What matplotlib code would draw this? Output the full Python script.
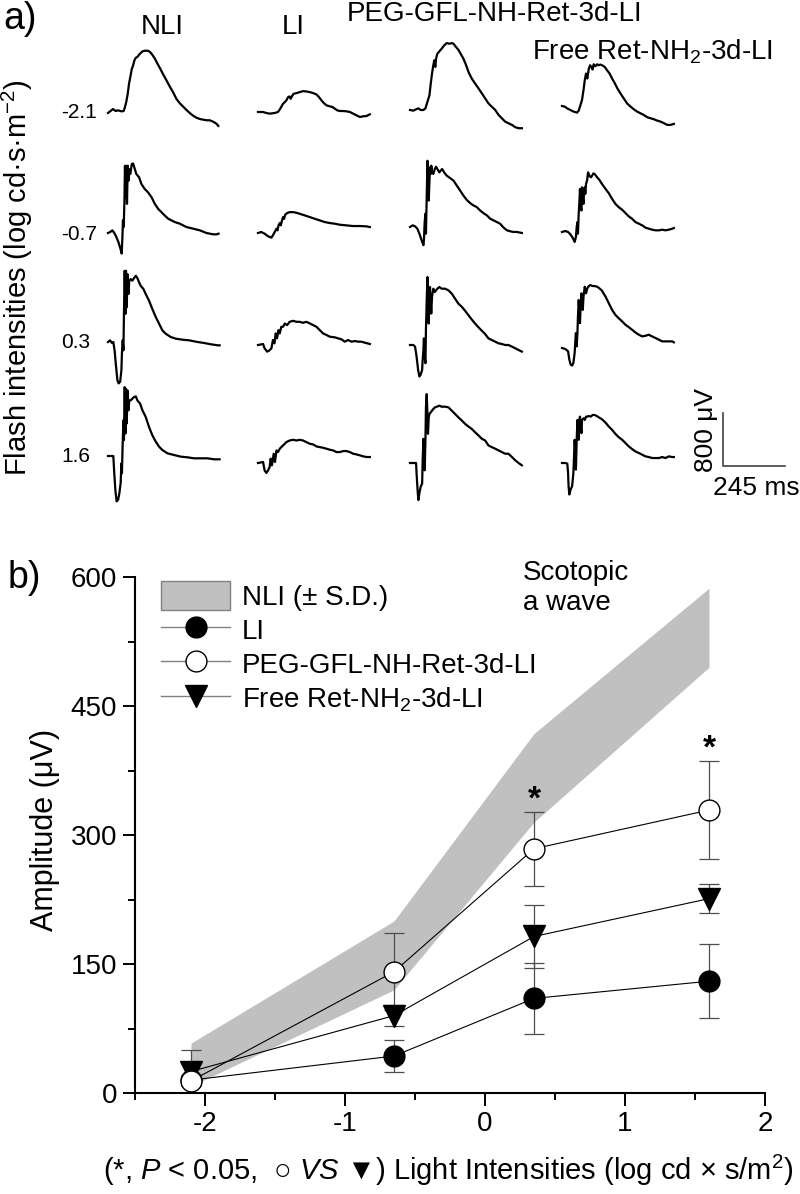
import matplotlib
matplotlib.use('Agg')
import matplotlib.pyplot as plt
from matplotlib.patches import Patch
from matplotlib.lines import Line2D

plt.rcParams['font.family'] = ['Liberation Sans', 'DejaVu Sans']
plt.rcParams['mathtext.fontset'] = 'custom'
plt.rcParams['mathtext.rm'] = 'Liberation Sans'
plt.rcParams['mathtext.it'] = 'Liberation Sans:italic'
plt.rcParams['mathtext.bf'] = 'Liberation Sans:bold'
plt.rcParams['axes.unicode_minus'] = False

#######################################################
# panel a : ERG traces (time in ms, amplitude in uV)
#######################################################
groups = ['NLI', 'LI', 'PEG-GFL-NH-Ret-3d-LI', 'Free Ret-NH$_2$-3d-LI']
flash_labels = ['-2.1', '-0.7', '0.3', '1.6']
scale_uv = 800
scale_ms = 245

nli_ms = [
    [0, 10, 20, 30, 40, 53, 62, 67, 72, 78, 83, 88, 94, 99, 104, 109, 117, 125, 136, 146, 157, 165, 175, 186, 196,
     207, 217, 230, 244, 257, 270, 283, 296, 309, 323, 336, 349, 362, 375, 389, 402, 415, 428, 436],
    [0, 9, 17, 25, 33, 41, 49, 54, 57, 59, 62, 65, 67, 70, 73, 75, 78, 81, 83, 88, 94, 99, 106, 112, 123, 132, 145,
     158, 172, 185, 198, 211, 224, 238, 251, 264, 284, 310, 337, 363, 389, 416, 429, 437],
    [0, 8, 16, 21, 26, 32, 37, 42, 48, 53, 55, 58, 61, 63, 66, 69, 71, 74, 77, 81, 84, 90, 96, 103, 110, 116, 123,
     129, 140, 149, 162, 175, 189, 202, 215, 228, 248, 268, 294, 321, 354, 380, 407, 433, 441],
    [0, 21, 24, 29, 34, 40, 45, 50, 53, 55, 58, 61, 63, 66, 69, 71, 74, 77, 81, 84, 90, 96, 103, 110, 116, 127, 136,
     149, 162, 175, 189, 202, 215, 235, 261, 288, 314, 340, 367, 393, 420, 441]]
nli_uv = [
    [-15, 15, 45, 15, 25, 10, 15, 75, 150, 275, 425, 525, 650, 700, 775, 815, 835, 875, 915, 925, 925, 910, 865, 800,
     725, 650, 575, 485, 385, 300, 200, 135, 85, 35, -15, -55, -85, -105, -115, -125, -125, -145, -175, -210],
    [0, 15, 40, 0, -60, -135, -235, -310, -60, 190, 90, 490, 1015, 540, 1015, 440, 1015, 790, 965, 890, 1040, 1050,
     965, 890, 840, 740, 665, 615, 540, 440, 365, 315, 265, 215, 190, 165, 140, 90, 65, 40, 0, -20, -20, -10],
    [0, 25, -15, 0, -125, -375, -575, -625, -600, -425, -175, 25, -125, 425, 1075, 425, 1075, 525, 1025, 725, 925,
     950, 925, 965, 1000, 965, 900, 850, 800, 725, 625, 500, 375, 275, 175, 125, 75, 50, 35, 25, 0, -15, -35, -50,
     -50],
    [0, 0, -210, -510, -685, -660, -560, -410, -110, -260, 190, 540, 240, 1040, 340, 1015, 490, 990, 690, 840, 840,
     865, 890, 900, 840, 790, 690, 590, 440, 315, 215, 140, 90, 40, 15, -10, -20, -35, -35, -35, -50, -50]]

li_ms = [
    [0, 20, 33, 46, 66, 79, 88, 99, 106, 112, 119, 125, 129, 136, 141, 152, 165, 178, 191, 205, 218, 231, 241, 251,
     260, 271, 284, 294, 304, 313, 323, 337, 350, 363, 376, 389, 403, 416, 429, 442],
    [0, 13, 26, 40, 53, 59, 66, 73, 77, 81, 86, 90, 95, 99, 103, 108, 115, 125, 139, 152, 165, 185, 205, 224, 244,
     264, 284, 304, 323, 350, 376, 403, 429, 442],
    [0, 20, 26, 36, 44, 53, 59, 65, 70, 75, 81, 86, 92, 99, 106, 115, 125, 139, 152, 165, 178, 191, 205, 218, 231,
     244, 257, 271, 284, 304, 317, 330, 343, 356, 370, 383, 396, 409, 422, 442],
    [0, 20, 26, 33, 40, 46, 50, 55, 62, 67, 73, 79, 86, 92, 99, 112, 125, 139, 152, 165, 178, 191, 205, 218, 231,
     244, 257, 271, 284, 297, 310, 323, 337, 350, 363, 376, 389, 403, 416, 429, 442]]
li_uv = [
    [0, 0, -15, -25, -15, 0, 50, 125, 150, 175, 225, 235, 200, 250, 275, 285, 300, 315, 310, 300, 285, 265, 225, 175,
     135, 100, 85, 75, 50, 25, 15, 15, 10, 0, -25, -50, -75, -65, -60, -35],
    [0, 15, -10, -50, -70, -35, 15, 65, 40, 115, 150, 115, 190, 240, 215, 280, 300, 315, 315, 305, 290, 265, 240,
     215, 190, 165, 150, 140, 125, 115, 105, 105, 100, 90],
    [0, 15, -50, -100, -85, -50, 75, 25, 175, 100, 225, 175, 275, 275, 325, 300, 350, 365, 350, 350, 335, 350, 325,
     300, 275, 225, 175, 150, 125, 115, 100, 85, 50, 75, 50, 60, 50, 50, 35, 15],
    [0, 15, -110, -150, -110, -60, 65, -35, 140, 15, 190, 165, 215, 240, 265, 315, 340, 350, 340, 350, 340, 315, 290,
     280, 250, 240, 230, 215, 200, 190, 165, 165, 180, 180, 165, 140, 130, 115, 100, 90, 90]]

peg_ms = [
    [0, 13, 24, 33, 42, 53, 61, 69, 77, 82, 87, 92, 96, 100, 103, 108, 114, 119, 125, 135, 145, 156, 165, 172, 182,
     191, 200, 211, 222, 231, 244, 257, 271, 284, 297, 310, 323, 337, 350, 363, 376, 389, 403, 416, 429, 442],
    [0, 11, 20, 29, 37, 45, 53, 55, 58, 61, 63, 66, 69, 71, 74, 77, 79, 82, 84, 87, 92, 98, 103, 108, 116, 121, 127,
     135, 145, 158, 172, 185, 198, 211, 224, 238, 251, 264, 277, 290, 304, 317, 330, 343, 356, 370, 383, 396, 409,
     422, 442],
    [0, 13, 20, 26, 32, 37, 42, 48, 50, 53, 55, 58, 61, 63, 66, 69, 71, 74, 77, 79, 82, 84, 87, 92, 98, 103, 108,
     116, 125, 139, 152, 165, 178, 191, 205, 218, 231, 244, 257, 271, 284, 297, 310, 323, 337, 350, 363, 376, 389,
     403, 416, 429, 442],
    [0, 13, 24, 26, 30, 33, 37, 42, 48, 50, 53, 55, 58, 61, 63, 66, 69, 71, 74, 77, 82, 87, 92, 99, 106, 116, 125,
     139, 152, 165, 178, 191, 205, 218, 231, 244, 257, 271, 284, 297, 310, 323, 337, 350, 363, 376, 389, 403, 416,
     429, 442]]
peg_uv = [
    [0, -10, 10, 25, 0, 0, 25, 125, 225, 400, 550, 675, 750, 650, 775, 850, 875, 900, 925, 975, 1010, 1000, 1010,
     1000, 950, 910, 850, 775, 675, 575, 475, 400, 325, 250, 175, 100, 50, 0, -75, -125, -175, -200, -225, -260,
     -275, -275],
    [0, 25, 10, -25, -100, -190, -275, -200, 75, 200, -100, 450, 1000, 600, 400, 700, 900, 800, 925, 850, 800, 875,
     910, 875, 825, 850, 875, 825, 775, 740, 700, 625, 550, 475, 410, 360, 325, 300, 250, 210, 175, 125, 100, 75, 50,
     -10, -50, -65, -75, -75, -90],
    [0, 0, -25, -175, -375, -475, -450, -375, -225, -75, 100, -175, -275, 225, 675, 1025, 625, 325, 675, 875, 625,
     475, 725, 850, 800, 825, 850, 875, 850, 850, 825, 775, 700, 625, 575, 515, 450, 385, 325, 265, 215, 165, 100,
     75, 50, 25, 15, 0, 0, -25, -50, -75, -100],
    [0, 0, 0, -160, -410, -560, -460, -360, -310, 40, 365, 140, -110, 340, 840, 1040, 740, 440, 690, 740, 765, 790,
     815, 840, 850, 865, 850, 850, 840, 790, 740, 690, 640, 590, 550, 515, 465, 415, 365, 340, 265, 240, 215, 190,
     165, 140, 140, 90, 40, 0, -35]]

free_ms = [
    [0, 11, 20, 33, 46, 59, 66, 73, 79, 85, 90, 95, 100, 106, 111, 116, 121, 125, 132, 139, 145, 152, 158, 169, 178,
     188, 198, 209, 219, 231, 244, 257, 271, 284, 297, 310, 323, 337, 350, 363, 376, 389, 403, 416, 429, 442],
    [0, 13, 24, 33, 42, 50, 55, 58, 61, 63, 66, 69, 71, 74, 77, 79, 82, 85, 87, 90, 92, 95, 99, 103, 108, 114, 119,
     124, 129, 139, 148, 158, 172, 185, 198, 211, 224, 238, 251, 264, 277, 290, 304, 317, 330, 343, 356, 370, 383,
     396, 409, 422, 436, 442],
    [0, 13, 24, 29, 34, 40, 45, 50, 53, 55, 58, 61, 63, 66, 69, 71, 74, 77, 79, 82, 85, 90, 95, 100, 106, 112, 121,
     129, 139, 148, 158, 172, 185, 198, 211, 224, 238, 251, 264, 277, 290, 304, 317, 330, 343, 356, 370, 383, 396,
     409, 422, 436, 442],
    [0, 13, 21, 24, 26, 29, 34, 40, 45, 48, 50, 53, 55, 58, 61, 63, 66, 69, 71, 74, 77, 79, 85, 90, 95, 100, 106,
     114, 121, 129, 137, 145, 158, 172, 185, 198, 211, 224, 238, 251, 264, 277, 290, 304, 317, 330, 343, 356, 370,
     383, 396, 409, 422, 436, 442]]
free_uv = [
    [0, -10, -35, -60, -85, -100, -70, 15, 90, 240, 390, 490, 415, 565, 615, 590, 550, 630, 600, 630, 615, 625, 615,
     590, 540, 490, 415, 340, 265, 190, 115, 40, -10, -50, -85, -110, -135, -170, -185, -200, -220, -235, -260, -285,
     -285, -270],
    [0, 15, 0, -35, -85, -150, -75, 75, 150, -25, 275, 475, 650, 375, 325, 675, 525, 425, 625, 675, 575, 725, 775,
     900, 850, 825, 850, 885, 875, 825, 785, 725, 650, 585, 500, 425, 375, 335, 285, 235, 200, 150, 125, 100, 65, 50,
     35, 25, 25, 35, 25, 35, 50, 60],
    [0, -15, -50, -175, -250, -265, -225, -75, 125, 225, 25, 225, 475, 725, 525, 375, 675, 825, 625, 575, 775, 925,
     825, 900, 935, 950, 935, 935, 925, 900, 865, 775, 675, 575, 500, 450, 400, 350, 315, 275, 235, 200, 175, 185,
     200, 175, 150, 125, 100, 100, 100, 100, 85],
    [0, 0, -10, -150, -350, -475, -400, -350, -150, 150, 350, 150, -100, 350, 650, 450, 350, 650, 700, 550, 450, 650,
     675, 650, 700, 700, 710, 700, 725, 725, 710, 690, 660, 610, 550, 500, 440, 390, 350, 300, 250, 210, 175, 150,
     125, 100, 90, 75, 75, 75, 90, 75, 100, 90, 90]]

#######################################################
# panel b : scotopic a wave amplitude
#######################################################
intensity = [-2.1, -0.65, 0.35, 1.6]
nli_upper = [58, 200, 418, 587]
nli_lower = [8, 120, 315, 495]
li_mean = [15, 43, 110, 130]
li_sd = [6, 19, 41, 43]
peg_mean = [14, 141, 284, 329]
peg_sd = [6, 45, 43, 57]
free_mean = [25, 90, 182, 226]
free_sd = [25, 12, 37, 17]
peg_vs_free_sig = [False, False, True, True]

# layout (pixels of the 800x1194 figure)
W, H = 800.0, 1194.0
MS_PER_PX = 245 / 62.0
UV_PER_PX = 800 / 53.0
col_x0 = [108, 258, 410, 562]
row_base = [[112, 233, 342, 456],
            [112, 233, 345, 463],
            [110, 227, 345, 463],
            [106, 232, 348, 463]]

fig = plt.figure(figsize=(8, 11.94), dpi=100)

ax_a = fig.add_axes([0, 1 - 520 / H, 1, 520 / H])
ax_a.set_xlim(0, W)
ax_a.set_ylim(520, 0)
ax_a.axis('off')

col_ms = [nli_ms, li_ms, peg_ms, free_ms]
col_uv = [nli_uv, li_uv, peg_uv, free_uv]
for ci in range(4):
    for ri in range(4):
        t = col_ms[ci][ri]
        v = col_uv[ci][ri]
        assert len(t) == len(v), (ci, ri)
        xs = [col_x0[ci] + tt / MS_PER_PX for tt in t]
        ys = [row_base[ci][ri] - vv / UV_PER_PX for vv in v]
        ax_a.plot(xs, ys, color='black', lw=1.6, solid_joinstyle='round')

# column titles
title_pos = [(162, 27), (293, 27), (495, 14), (652, 52)]
for name, (px, py) in zip(groups, title_pos):
    ax_a.text(px, py, name, fontsize=20, ha='center', va='center')

for lab, ri in zip(flash_labels, range(4)):
    ax_a.text(61, row_base[0][ri] + 1, lab, fontsize=15, ha='left', va='center')

ax_a.text(3, 19, 'a)', fontsize=27, ha='left', va='center')
ax_a.text(17, 278, 'Flash intensities (log cd\u00b7s\u00b7m$^{-2}$)', fontsize=21,
          rotation=90, ha='center', va='center')

# scale bar
sb_x, sb_y = 723, 466
ax_a.plot([sb_x, sb_x, sb_x + scale_ms / MS_PER_PX],
          [sb_y - scale_uv / UV_PER_PX, sb_y, sb_y], color='0.25', lw=1.2)
ax_a.text(706, 430, '%d \u03bcV' % scale_uv, fontsize=19, rotation=90, ha='center', va='center')
ax_a.text(756, 488, '%d ms' % scale_ms, fontsize=19, ha='center', va='center')

#######################################################
# panel b
#######################################################
ax = fig.add_axes([135 / W, 1 - 1093 / H, 630 / W, 516 / H])
ax.fill_between(intensity, nli_lower, nli_upper, color='#c0c0c0', lw=0, zorder=1)

for mean, sd in [(li_mean, li_sd), (free_mean, free_sd), (peg_mean, peg_sd)]:
    ax.errorbar(intensity, mean, yerr=sd, fmt='none', ecolor='0.3', elinewidth=0.9,
                capsize=7, capthick=0.9, zorder=2)

ax.plot(intensity, li_mean, color='black', lw=0.8, marker='o', ms=15, mfc='black', mec='black', zorder=3)
ax.plot(intensity, free_mean, color='black', lw=0.8, marker='v', ms=16, mfc='black', mec='black', zorder=3)
ax.plot(intensity, peg_mean, color='black', lw=0.8, marker='o', ms=15, mfc='white', mec='black',
        mew=1.0, zorder=4)

for xi, yi, si, sig in zip(intensity, peg_mean, peg_sd, peg_vs_free_sig):
    if sig:
        ax.text(xi, yi + si + 14, '*', fontsize=24, fontweight='bold', ha='center', va='center')

ax.set_xlim(-2.5, 2)
ax.set_ylim(0, 600)
ax.set_xticks([-2, -1, 0, 1, 2])
ax.set_xticks([-2.5, -1.5, -0.5, 0.5, 1.5], minor=True)
ax.set_yticks([0, 150, 300, 450, 600])
ax.set_yticks([75, 225, 375, 525], minor=True)
ax.spines['top'].set_visible(False)
ax.spines['right'].set_visible(False)
for s in ['left', 'bottom']:
    ax.spines[s].set_linewidth(1.5)
ax.tick_params(which='major', direction='out', length=9, width=1.4, labelsize=20, pad=4)
ax.tick_params(which='minor', direction='out', length=5, width=1.4)

handles = [Patch(facecolor='#c0c0c0', edgecolor='#808080', lw=1),
           Line2D([], [], color='0.5', lw=1, marker='o', ms=15, mfc='black', mec='black'),
           Line2D([], [], color='0.5', lw=1, marker='o', ms=15, mfc='white', mec='black'),
           Line2D([], [], color='0.5', lw=1, marker='v', ms=16, mfc='black', mec='black')]
labels = ['NLI (\u00b1 S.D.)', 'LI', 'PEG-GFL-NH-Ret-3d-LI', 'Free Ret-NH$_2$-3d-LI']
fig.legend(handles, labels, loc='upper left', bbox_to_anchor=(161 / W, 1 - 581 / H),
           frameon=False, fontsize=20, handlelength=2.5, handleheight=1.25, handletextpad=0.4,
           labelspacing=0.15, borderpad=0, borderaxespad=0)

fig.text(523 / W, 1 - 560 / H, 'Scotopic\na wave', fontsize=20, ha='left', va='top')
fig.text(8 / W, 1 - 578 / H, 'b)', fontsize=27, ha='left', va='center')
fig.text(45 / W, 1 - 830 / H, 'Amplitude (\u03bcV)', fontsize=22, rotation=90, ha='center', va='center')
fig.text(448 / W, 1 - 1170 / H,
         '(*, $\\mathit{P}$ < 0.05,  \u25cb $\\mathit{VS}$ \u25bc) Light Intensities (log cd \u00d7 s/m$^2$)',
         fontsize=21, ha='center', va='center')

fig.savefig('out.png', dpi=100)
